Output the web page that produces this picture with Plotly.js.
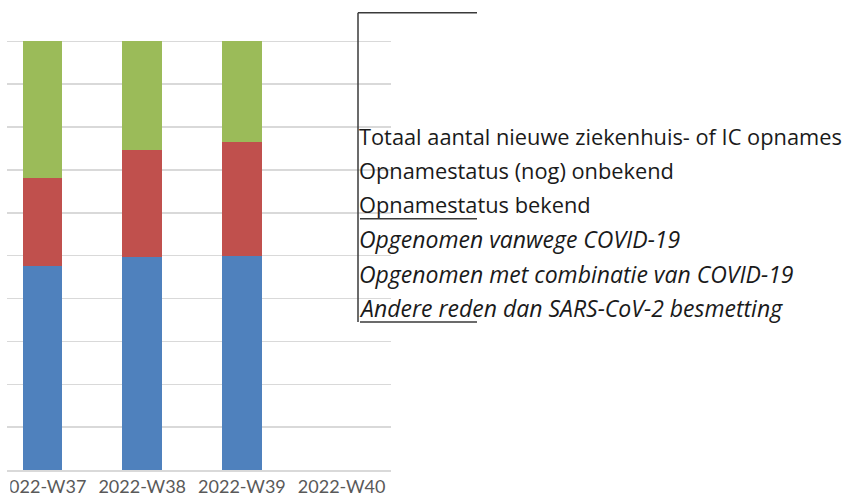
<!DOCTYPE html>
<html>
<head>
<meta charset="utf-8">
<script src="https://cdn.plot.ly/plotly-3.0.1.min.js"></script>
<style>html,body{margin:0;padding:0;background:#fff;}</style>
</head>
<body>
<div id="chart" style="width:851px;height:504px;"></div>
<script>
// Data (share of admissions per week, stacked to 100%)
const weeks = ["2022-W37", "2022-W38", "2022-W39", "2022-W40"];
const vanwegeCovid = [0.476, 0.497, 0.500, null];      // blue
const combinatieCovid = [0.205, 0.249, 0.266, null];   // red
const andereReden = [0.319, 0.254, 0.234, null];       // green
const seriesNames = [
  "Opgenomen vanwege COVID-19",
  "Opgenomen met combinatie van COVID-19",
  "Andere reden dan SARS-CoV-2 besmetting"
];
const legendLines = [
  "Totaal aantal nieuwe ziekenhuis- of IC opnames",
  "Opnamestatus (nog) onbekend",
  "Opnamestatus bekend",
  "Opgenomen vanwege COVID-19",
  "Opgenomen met combinatie van COVID-19",
  "Andere reden dan SARS-CoV-2 besmetting"
];
const legendItalic = [false, false, false, true, true, true];

const colors = ["#4f81bd", "#c0504d", "#9bbb59"];
const values = [vanwegeCovid, combinatieCovid, andereReden];

const traces = values.map((v, i) => ({
  type: "bar",
  x: weeks,
  y: v,
  name: seriesNames[i],
  marker: {color: colors[i], line: {width: 0}},
  showlegend: false
}));

// plot area: x 7..391; value 0 at y=470, value 1 at y=41
const YMAX = 1.01;
const L = 7, R = 391, B = 470, T1 = 41;
const T = B - (B - T1) * YMAX;
const px = x => (x - L) / (R - L);
const py = y => (B - y) / (B - T);

const annotations = legendLines.map((t, i) => ({
  xref: "paper", yref: "paper",
  x: px(357), y: py(136 + i * 34.4),
  xanchor: "left", yanchor: "middle",
  text: legendItalic[i] ? "<i>" + t + "</i>" : t,
  showarrow: false,
  font: {family: "'Open Sans', sans-serif", size: legendItalic[i] ? 23 : 21.8, color: "#1a1a1a"}
}));

const lineStyle = {color: "#3a3a3a", width: 1.5};
const shapes = [
  {type: "line", xref: "paper", yref: "paper", x0: px(358), x1: px(358), y0: py(12.5), y1: py(322), line: lineStyle, layer: "above"},
  {type: "line", xref: "paper", yref: "paper", x0: px(358), x1: px(477), y0: py(12.5), y1: py(12.5), line: lineStyle, layer: "above"},
  {type: "line", xref: "paper", yref: "paper", x0: px(360), x1: px(477), y0: py(218.5), y1: py(218.5), line: lineStyle, layer: "above"},
  {type: "line", xref: "paper", yref: "paper", x0: px(360), x1: px(477), y0: py(322), y1: py(322), line: lineStyle, layer: "above"},
  // white crop mask over the leading character of the first tick label (cropped in source)
  {type: "rect", xref: "paper", yref: "paper", x0: px(-5), x1: px(10.3), y0: py(478), y1: py(504), fillcolor: "#ffffff", line: {width: 0}, layer: "above"}
];

const layout = {
  width: 851, height: 504,
  margin: {l: L, r: 851 - R, t: T, b: 504 - B, pad: 0},
  paper_bgcolor: "#ffffff", plot_bgcolor: "#ffffff",
  barmode: "stack",
  bargap: 0.6,
  xaxis: {
    type: "category",
    range: [-0.356, 3.495],
    showgrid: false,
    showline: true, linecolor: "#d9d9d9", linewidth: 1.5,
    ticks: "",
    tickfont: {family: "Lato, 'Open Sans', sans-serif", size: 18, color: "#595959"},
    fixedrange: true
  },
  yaxis: {
    range: [0, YMAX],
    tick0: 0,
    dtick: 0.1,
    showgrid: true, gridcolor: "#d9d9d9", gridwidth: 1.5,
    zeroline: false,
    showticklabels: false,
    ticks: "",
    fixedrange: true
  },
  annotations: annotations,
  shapes: shapes,
  showlegend: false
};

Plotly.newPlot("chart", traces, layout, {displayModeBar: false, staticPlot: true});
</script>
</body>
</html>
